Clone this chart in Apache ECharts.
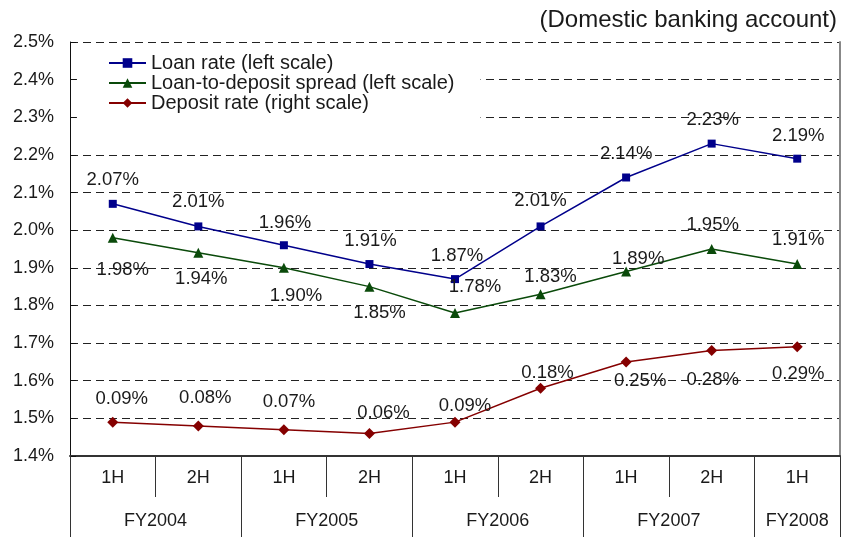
<!DOCTYPE html>
<html>
<head>
<meta charset="utf-8">
<script src="https://cdn.jsdelivr.net/npm/echarts@6/dist/echarts.min.js"></script>
<style>
  html, body { margin: 0; padding: 0; background: #fff; }
  #chart { width: 843px; height: 537px; }
</style>
</head>
<body>
<div id="chart"></div>
<script>
// Half-year periods and the fiscal years they belong to
const halves = ['1H', '2H', '1H', '2H', '1H', '2H', '1H', '2H', '1H'];
const fiscalYears = ['FY2004', 'FY2005', 'FY2006', 'FY2007', 'FY2008'];
const halvesPerYear = [2, 2, 2, 2, 1];

// Rates in percent
const loanRate = [2.07, 2.01, 1.96, 1.91, 1.87, 2.01, 2.14, 2.23, 2.19];
const spread = [1.98, 1.94, 1.90, 1.85, 1.78, 1.83, 1.89, 1.95, 1.91];
const depositRate = [0.09, 0.08, 0.07, 0.06, 0.09, 0.18, 0.25, 0.28, 0.29];

// Left-scale tick range
const leftMin = 1.4, leftMax = 2.5, leftStep = 0.1;

// Label nudges (px, relative to each point) so the value labels stay clear of the lines
const loanLabelShift = [[0,-24],[0,-25],[1,-22],[1,-23],[2,-23],[0,-26],[0,-24],[1,-24],[1,-23]];
const spreadLabelShift = [[10,32],[3,26],[12,28],[10,26],[20,-26],[10,-17],[12,-13],[1,-24],[1,-24]];
const depositLabelShift = [[9,-23],[7,-28],[5,-28],[14,-21],[10,-16],[7,-15],[14,19],[1,29],[1,27]];

// Year boundaries and centres along the half-year axis
const yearEdges = [0];
const yearCentres = [];
halvesPerYear.forEach(n => {
  const start = yearEdges[yearEdges.length - 1];
  yearCentres.push(start + n / 2);
  yearEdges.push(start + n);
});

const FONT = 'Liberation Sans, Arial, sans-serif';
const TEXT = '#1a1a1a';

function pointData(values, shifts) {
  return values.map((v, i) => ({
    value: v,
    label: { offset: shifts[i] }
  }));
}

function lineSeries(name, values, shifts, color, symbol, size, yIndex) {
  return {
    name: name,
    type: 'line',
    xAxisIndex: 0,
    yAxisIndex: yIndex,
    data: pointData(values, shifts),
    symbol: symbol,
    symbolSize: size,
    lineStyle: { color: color, width: 1.5 },
    itemStyle: { color: color },
    label: {
      show: true,
      position: 'inside',
      color: TEXT,
      fontFamily: FONT,
      fontSize: 18.5,
      formatter: p => p.value.toFixed(2) + '%'
    },
    emphasis: { disabled: true },
    animation: false,
    z: 3
  };
}

const chart = echarts.init(document.getElementById('chart'), null, { renderer: 'canvas' });

chart.setOption({
  backgroundColor: '#ffffff',
  animation: false,
  title: {
    text: '(Domestic banking account)',
    right: 1,
    top: 3,
    textStyle: { fontFamily: FONT, fontSize: 24, fontWeight: 'normal', color: TEXT }
  },
  legend: {
    orient: 'vertical',
    left: 77,
    top: 48,
    padding: [5, 26, 8, 31],
    backgroundColor: '#ffffff',
    itemWidth: 37,
    itemHeight: 12,
    itemGap: 0,
    textStyle: { fontFamily: FONT, fontSize: 20, color: TEXT, lineHeight: 20 },
    data: ['Loan rate (left scale)', 'Loan-to-deposit spread (left scale)', 'Deposit rate (right scale)'],
    z: 4
  },
  grid: { left: 70, right: 3, top: 42, bottom: 81, containLabel: false },
  xAxis: [
    {
      type: 'category',
      data: halves,
      position: 'bottom',
      boundaryGap: true,
      axisLine: { show: true, lineStyle: { color: '#333', width: 2 } },
      axisTick: { show: true, length: 41, inside: false, alignWithLabel: false, lineStyle: { color: '#333', width: 1 } },
      axisLabel: { color: TEXT, fontFamily: FONT, fontSize: 18, margin: 13 },
      splitLine: { show: false }
    },
    {
      type: 'value',
      min: 0,
      max: halves.length,
      position: 'bottom',
      axisLine: { show: false },
      axisTick: { show: true, length: 81, inside: false, customValues: yearEdges, lineStyle: { color: '#333', width: 1 } },
      axisLabel: {
        show: true,
        customValues: yearCentres,
        color: TEXT,
        fontFamily: FONT,
        fontSize: 18,
        margin: 56,
        formatter: v => {
          const i = yearCentres.indexOf(v);
          return i >= 0 ? fiscalYears[i] : '';
        }
      },
      splitLine: { show: false }
    }
  ],
  yAxis: [
    {
      type: 'value',
      min: leftMin,
      max: leftMax,
      interval: leftStep,
      position: 'left',
      axisLine: { show: true, lineStyle: { color: '#111', width: 1 } },
      axisTick: { show: true, inside: true, length: 6, lineStyle: { color: '#111' } },
      axisLabel: {
        color: TEXT, fontFamily: FONT, fontSize: 18, margin: 16,
        formatter: v => v.toFixed(1) + '%'
      },
      splitLine: { show: true, lineStyle: { color: '#222', type: [8, 5], width: 1 } }
    },
    {
      type: 'value',
      min: leftMin - 1.4,
      max: leftMax - 1.4,
      interval: leftStep,
      position: 'right',
      axisLine: { show: true, lineStyle: { color: '#888', width: 2 } },
      axisTick: { show: false },
      axisLabel: { show: false },
      splitLine: { show: false }
    }
  ],
  series: [
    lineSeries('Loan rate (left scale)', loanRate, loanLabelShift, '#00008b', 'rect', 8, 0),
    lineSeries('Loan-to-deposit spread (left scale)', spread, spreadLabelShift, '#0a4a0a', 'triangle', 10, 0),
    lineSeries('Deposit rate (right scale)', depositRate, depositLabelShift, '#850000', 'diamond', 11, 1)
  ]
});
</script>
</body>
</html>
